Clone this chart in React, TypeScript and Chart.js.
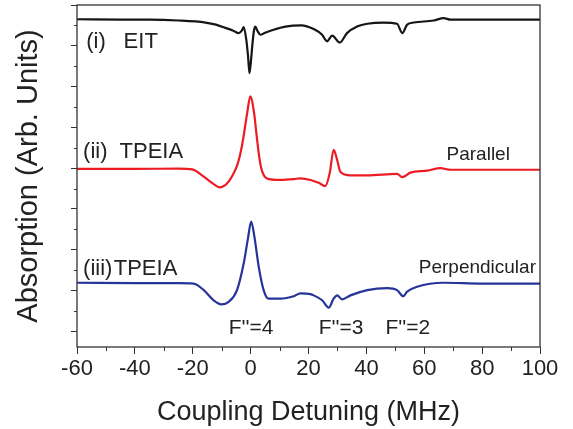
import React, { useEffect, useRef } from 'react';
import { Chart, registerables } from 'chart.js';

Chart.register(...registerables);

// ---- Data (detuning in MHz, absorption in arbitrary units) ----
const eitDetuning = [-60, -45, -35, -25, -15.6, -12, -8.7, -6, -4.1, -3.0, -2.4, -1.5, -0.9, -0.4, 0.1, 0.6, 1.1, 1.6, 2.4, 3.4, 5, 7.4, 12, 17.5, 21.8, 24.7, 26.4, 28.2, 30.8, 33.3, 36.8, 40.3, 46, 50.6, 52.4, 54.1, 56.4, 63.3, 66.7, 69.1, 80, 100];
const eitAbsorption = [7.65, 7.64, 7.64, 7.62, 7.57, 7.52, 7.44, 7.37, 7.31, 7.38, 7.46, 7.15, 6.75, 6.33, 6.62, 7.02, 7.35, 7.47, 7.36, 7.27, 7.32, 7.38, 7.47, 7.50, 7.41, 7.27, 7.11, 7.25, 7.08, 7.31, 7.47, 7.54, 7.57, 7.54, 7.31, 7.52, 7.57, 7.62, 7.68, 7.64, 7.64, 7.64];

const parallelDetuning = [-60, -40, -25, -20.2, -16.2, -13, -10.7, -8.1, -5.9, -4.5, -3.5, -2.5, -1.2, -0.1, 1.2, 2.0, 2.8, 3.6, 4.5, 6.2, 10.3, 14.9, 17.2, 20.7, 23.5, 25.8, 27.3, 28.7, 29.9, 31, 34.5, 40.3, 50.6, 52.4, 55.2, 61, 65.6, 69.1, 80, 100];
const parallelAbsorption = [3.98, 3.98, 3.99, 3.97, 3.79, 3.62, 3.53, 3.63, 3.87, 4.10, 4.37, 4.75, 5.35, 5.76, 5.35, 4.85, 4.37, 4.02, 3.83, 3.73, 3.71, 3.73, 3.75, 3.71, 3.64, 3.56, 3.87, 4.45, 4.20, 3.91, 3.82, 3.82, 3.86, 3.78, 3.89, 3.94, 4.00, 3.96, 3.96, 3.96];

const perpDetuning = [-60, -40, -25, -19.7, -16.2, -12.8, -10.1, -7.6, -4.7, -2.4, -1.0, 0.2, 1.3, 2.8, 4.5, 6.2, 10.3, 14.9, 17.2, 20.7, 21.8, 24.7, 27, 28.7, 29.9, 31.6, 34.5, 40.3, 47.2, 50.6, 52.7, 54.1, 57.5, 66.7, 80, 100];
const perpAbsorption = [1.19, 1.18, 1.18, 1.17, 1.01, 0.76, 0.66, 0.72, 1.01, 1.66, 2.24, 2.69, 2.32, 1.58, 1.01, 0.80, 0.80, 0.86, 0.93, 0.91, 0.88, 0.76, 0.58, 0.80, 0.88, 0.78, 0.88, 1.01, 1.06, 1.01, 0.86, 0.97, 1.09, 1.19, 1.17, 1.17];

const xMajorTicks = [-60, -40, -20, 0, 20, 40, 60, 80, 100];
const xMinorTicks = [-50, -30, -10, 10, 30, 50, 70, 90];
const yMinorTicks = [0.5, 1.5, 2.5, 3.5, 4.5, 5.5, 6.5, 7.5];

const labelTexts = ['(i)', 'EIT', '(ii)', 'TPEIA', '(iii)', 'TPEIA', 'Parallel', 'Perpendicular', "F''=4", "F''=3", "F''=2"];
const labelX = [-56.8, -43.9, -57.9, -45.3, -57.9, -47.3, 67.7, 58.1, -7.6, 23.5, 46.6];
const labelY = [6.94, 6.94, 4.24, 4.24, 1.38, 1.38, 4.20, 1.42, -0.07, -0.07, -0.07];
const labelSize = [22, 22, 22, 22, 22, 22, 19, 19, 21, 21, 21];

const FONT = "'Liberation Sans', Arial, Helvetica, sans-serif";
const INK = '#222222';

const toPoints = (xs: number[], ys: number[]) => xs.map((x, i) => ({ x, y: ys[i] }));

const decorPlugin = {
  id: 'decor',
  afterDraw(chart: any) {
    const { ctx, chartArea, scales } = chart;
    const xs = scales.x;
    const ys = scales.y;
    ctx.save();
    // frame
    ctx.strokeStyle = '#333333';
    ctx.lineWidth = 1.3;
    ctx.strokeRect(chartArea.left, chartArea.top, chartArea.right - chartArea.left, chartArea.bottom - chartArea.top);
    // minor ticks
    ctx.lineWidth = 1;
    ctx.beginPath();
    xMinorTicks.forEach((v) => {
      const px = Math.round(xs.getPixelForValue(v)) + 0.5;
      ctx.moveTo(px, chartArea.bottom);
      ctx.lineTo(px, chartArea.bottom + 4);
    });
    yMinorTicks.forEach((v) => {
      const py = Math.round(ys.getPixelForValue(v)) + 0.5;
      ctx.moveTo(chartArea.left - 3, py);
      ctx.lineTo(chartArea.left, py);
    });
    ctx.stroke();
    // text labels
    ctx.fillStyle = INK;
    ctx.textAlign = 'left';
    ctx.textBaseline = 'alphabetic';
    labelTexts.forEach((t, i) => {
      ctx.font = `${labelSize[i]}px ${FONT}`;
      ctx.fillText(t, xs.getPixelForValue(labelX[i]), ys.getPixelForValue(labelY[i]));
    });
    ctx.restore();
  },
};

export default function App() {
  const canvasRef = useRef<HTMLCanvasElement | null>(null);

  useEffect(() => {
    if (!canvasRef.current) return;
    const common = {
      pointRadius: 0,
      borderWidth: 2.2,
      fill: false,
      cubicInterpolationMode: 'monotone' as const,
    };
    const chart = new Chart(canvasRef.current, {
      type: 'line',
      data: {
        datasets: [
          { label: 'EIT', data: toPoints(eitDetuning, eitAbsorption), borderColor: '#151515', ...common },
          { label: 'TPEIA Parallel', data: toPoints(parallelDetuning, parallelAbsorption), borderColor: '#ec1c24', ...common },
          { label: 'TPEIA Perpendicular', data: toPoints(perpDetuning, perpAbsorption), borderColor: '#26349a', ...common },
        ],
      },
      options: {
        animation: false,
        responsive: false,
        maintainAspectRatio: false,
        layout: { padding: { top: 5, right: 33, left: 0, bottom: 0 } },
        plugins: { legend: { display: false }, tooltip: { enabled: false } },
        scales: {
          x: {
            type: 'linear',
            min: -60,
            max: 100,
            afterBuildTicks: (s: any) => {
              s.ticks = xMajorTicks.map((v) => ({ value: v }));
            },
            ticks: {
              font: { family: FONT, size: 22 },
              color: INK,
              padding: 2,
              maxRotation: 0,
              autoSkip: false,
            },
            grid: { drawOnChartArea: false, tickLength: 7, color: '#333333', lineWidth: 1 },
            border: { display: false },
            title: {
              display: true,
              text: 'Coupling Detuning (MHz)',
              font: { family: FONT, size: 27 },
              color: INK,
              padding: { top: 0, bottom: 0 },
            },
            afterFit: (s: any) => {
              s.height = 82;
            },
          },
          y: {
            type: 'linear',
            min: -0.386,
            max: 8,
            ticks: { stepSize: 1, display: false, includeBounds: false },
            grid: { drawOnChartArea: false, tickLength: 6, color: '#333333', lineWidth: 1 },
            border: { display: false },
            title: {
              display: true,
              text: 'Absorption (Arb. Units)',
              font: { family: FONT, size: 29 },
              color: INK,
              padding: { top: 12, bottom: 0 },
            },
            afterFit: (s: any) => {
              s.width = 77;
            },
          },
        },
      },
      plugins: [decorPlugin],
    });
    return () => chart.destroy();
  }, []);

  return (
    <div style={{ position: 'absolute', left: 0, top: 0, width: 573, height: 429, background: '#fff' }}>
      <canvas ref={canvasRef} width={573} height={429} />
    </div>
  );
}
